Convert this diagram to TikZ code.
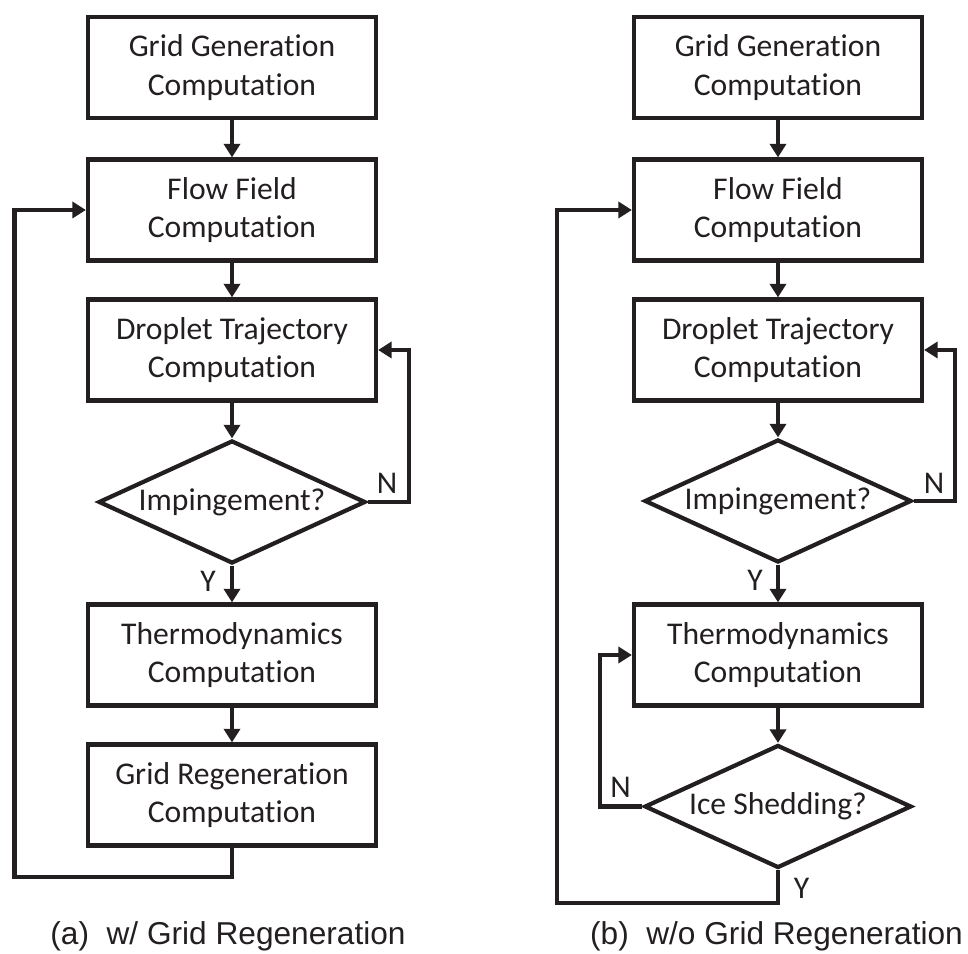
\documentclass[tikz,border=0pt]{standalone}
\usepackage{fontspec}
\setmainfont{Carlito}[Ligatures={NoCommon,NoRare,NoContextual}]
\newfontfamily\capfont{Liberation Sans}
\usetikzlibrary{shapes.geometric,arrows.meta}
\definecolor{ink}{RGB}{35,31,32}

\begin{document}
\begin{tikzpicture}[
    font=\fontsize{18}{22}\selectfont,
    line width=2.4pt, color=ink,
    >={Triangle[length=0.27cm,width=0.32cm]},
    box/.style={rectangle, draw, align=center, minimum width=5.76cm, minimum height=2.02cm},
    decision/.style={diamond, draw, inner sep=0pt, shape aspect=2.16, minimum width=5.34cm, minimum height=2.46cm},
    lbl/.style={inner sep=0pt},
    caption/.style={font=\capfont\fontsize{18}{22}\selectfont, anchor=base}
]
    \useasboundingbox (0,0) rectangle (19.36,19.08);

    % Draw nodes (a)
    \node[box] (a1) at (4.64,17.73) {Grid Generation\\Computation};
    \node[box] (a2) at (4.64,14.88) {Flow Field\\Computation};
    \node[box] (a3) at (4.64,12.08) {Droplet Trajectory\\Computation};
    \node[decision] (ad) at (4.64,9.04) {Impingement?};
    \node[box] (a4) at (4.64,5.98) {Thermodynamics\\Computation};
    \node[box] (a5) at (4.64,3.18) {Grid Regeneration\\Computation};
    \coordinate (anloop) at (8.18,12.08);
    \coordinate (aloop) at (0.29,1.54);

    % Draw directed edges (a)
    \draw[->] (a1) -- (a2);
    \draw[->] (a2) -- (a3);
    \draw[->] (a3) -- (ad);
    \draw[->] (ad) -- (a4);
    \draw[->] (a4) -- (a5);
    \draw[->] (ad.east) -| (anloop) |- (a3.east);
    \draw[->] (a5.south) |- (aloop) |- (a2.west);
    \node[lbl] (aN) at (7.74,9.42) {N};
    \node[lbl] (aY) at (4.16,7.46) {Y};

    % Draw nodes (b)
    \node[box] (b1) at (15.56,17.73) {Grid Generation\\Computation};
    \node[box] (b2) at (15.56,14.88) {Flow Field\\Computation};
    \node[box] (b3) at (15.56,12.08) {Droplet Trajectory\\Computation};
    \node[decision] (bd1) at (15.56,9.06) {Impingement?};
    \node[box] (b4) at (15.56,5.98) {Thermodynamics\\Computation};
    \node[decision] (bd2) at (15.56,2.95) {Ice Shedding?};
    \coordinate (bnloop) at (19.1,12.08);
    \coordinate (bsloop) at (12.0,5.98);
    \coordinate (bloop) at (11.14,1.02);

    % Draw directed edges (b)
    \draw[->] (b1) -- (b2);
    \draw[->] (b2) -- (b3);
    \draw[->] (b3) -- (bd1);
    \draw[->] (bd1) -- (b4);
    \draw[->] (b4) -- (bd2);
    \draw[->] (bd1.east) -| (bnloop) |- (b3.east);
    \draw[->] (bd2.west) -| (bsloop) |- (b4.west);
    \draw[->] (bd2.south) |- (bloop) |- (b2.west);
    \node[lbl] (bN1) at (18.68,9.42) {N};
    \node[lbl] (bY1) at (15.1,7.48) {Y};
    \node[lbl] (bN2) at (12.41,3.34) {N};
    \node[lbl] (bY2) at (16.03,1.32) {Y};

    % Captions
    \node[caption] (capa) at (4.56,0.18) {(a)\ \ w/ Grid Regeneration};
    \node[caption] (capb) at (15.53,0.18) {(b)\ \ w/o Grid Regeneration};
\end{tikzpicture}
\end{document}
